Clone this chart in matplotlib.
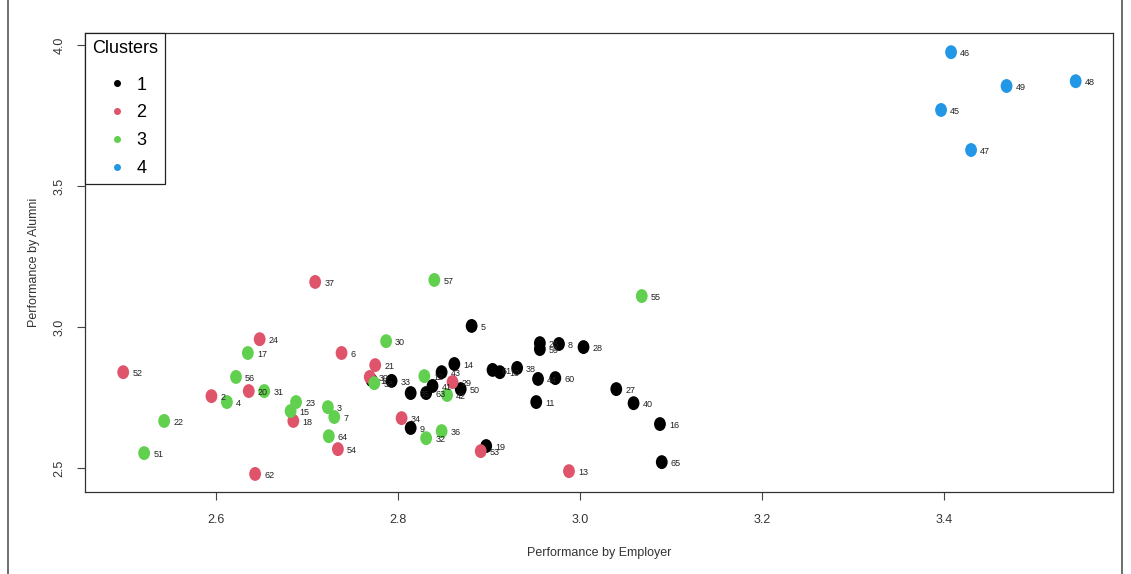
#!/usr/bin/env python3
"""
Cluster scatter: performance by employer vs performance by alumni
"""
import matplotlib
matplotlib.use("Agg")
import matplotlib.pyplot as plt
from matplotlib.path import Path
from matplotlib.transforms import Affine2D
from matplotlib.lines import Line2D

# cluster 1
c1_ids = [1, 5, 8, 9, 10, 11, 14, 16, 19, 26, 27, 28, 33, 35, 38, 40, 41, 43,
          44, 50, 59, 60, 61, 63, 65]
c1_x = [2.771, 2.881, 2.977, 2.814, 2.912, 2.952, 2.862, 3.088, 2.897, 2.956,
        3.040, 3.004, 2.793, 2.814, 2.931, 3.059, 2.838, 2.848, 2.954, 2.869,
        2.956, 2.973, 2.904, 2.831, 3.090]
c1_y = [2.812, 3.004, 2.940, 2.642, 2.840, 2.734, 2.869, 2.656, 2.578, 2.943,
        2.780, 2.929, 2.809, 2.766, 2.855, 2.730, 2.791, 2.840, 2.816, 2.780,
        2.922, 2.819, 2.848, 2.766, 2.521]

# cluster 2
c2_ids = [2, 6, 13, 18, 20, 21, 24, 29, 34, 37, 39, 52, 53, 54, 62]
c2_x = [2.595, 2.738, 2.988, 2.685, 2.636, 2.775, 2.648, 2.860, 2.804, 2.709,
        2.769, 2.498, 2.891, 2.734, 2.643]
c2_y = [2.755, 2.908, 2.489, 2.667, 2.773, 2.865, 2.957, 2.805, 2.677, 3.160,
        2.823, 2.840, 2.560, 2.567, 2.479]

# cluster 3
c3_ids = [3, 4, 7, 12, 15, 17, 22, 23, 30, 31, 32, 36, 42, 51, 55, 56, 57, 58, 64]
c3_x = [2.723, 2.612, 2.730, 2.829, 2.682, 2.635, 2.543, 2.688, 2.787, 2.653,
        2.831, 2.848, 2.854, 2.521, 3.068, 2.622, 2.840, 2.774, 2.724]
c3_y = [2.716, 2.734, 2.681, 2.826, 2.702, 2.908, 2.667, 2.734, 2.950, 2.773,
        2.606, 2.631, 2.759, 2.553, 3.110, 2.823, 3.167, 2.801, 2.613]

# cluster 4
c4_ids = [45, 46, 47, 48, 49]
c4_x = [3.397, 3.408, 3.430, 3.545, 3.469]
c4_y = [3.770, 3.975, 3.628, 3.872, 3.855]

cluster_names = ["1", "2", "3", "4"]
cluster_colors = ["#000000", "#DF536B", "#61D04F", "#2297E6"]

plt.rcParams['font.family'] = ['Liberation Sans', 'DejaVu Sans']

W, H = 1131, 574
fig = plt.figure(figsize=(W / 100, H / 100), dpi=100)
ax = fig.add_axes([85 / W, 1 - 492 / H, 1028 / W, 459 / H])

# slightly tall ellipse, like the stretched R points
oval = Path.unit_circle().transformed(Affine2D().scale(0.85, 1.0))

clusters = [(c1_ids, c1_x, c1_y), (c2_ids, c2_x, c2_y),
            (c3_ids, c3_x, c3_y), (c4_ids, c4_x, c4_y)]
for (ids, xs, ys), col in zip(clusters, cluster_colors):
    ax.scatter(xs, ys, s=100, marker=oval, c=col, edgecolors='none', zorder=3)
    for i, x, y in zip(ids, xs, ys):
        ax.annotate(str(i), (x, y), xytext=(6.5, -1), textcoords='offset points',
                    fontsize=6.5, color='#222222', va='center', ha='left',
                    zorder=4)

ax.set_xlim(2.456, 3.586)
ax.set_ylim(2.415, 4.043)
ax.set_xticks([2.6, 2.8, 3.0, 3.2, 3.4])
ax.set_xticklabels(["2.6", "2.8", "3.0", "3.2", "3.4"])
ax.set_yticks([2.5, 3.0, 3.5, 4.0])
ax.set_yticklabels(["2.5", "3.0", "3.5", "4.0"], rotation=90, va='center')
ax.tick_params(direction='out', length=6, width=0.8, color='#444444',
               labelcolor='#333333', labelsize=9, pad=10)
ax.tick_params(axis='y', pad=8)
for sp in ax.spines.values():
    sp.set_color('#333333')
    sp.set_linewidth(0.9)

ax.set_xlabel("Performance by Employer", fontsize=9, color='#333333', labelpad=15)
ax.set_ylabel("Performance by Alumni", fontsize=9, color='#333333', labelpad=10)

handles = [Line2D([], [], marker='o', ls='none', color=c, markersize=4)
           for c in cluster_colors]
leg = ax.legend(handles, cluster_names, title="Clusters", loc='upper left',
                borderaxespad=0, fontsize=13, title_fontsize=13, fancybox=False,
                framealpha=1, edgecolor='#222222', handletextpad=0.4,
                labelspacing=0.6, borderpad=0.4, handlelength=1.4)
leg.get_frame().set_linewidth(0.9)
# a bit more room between the title and the first entry
leg._legend_box.sep = 14

# thin grey edges at the sides of the picture
for xe in (8, 1122):
    fig.add_artist(Line2D([xe / W, xe / W], [0, 1], transform=fig.transFigure,
                          color='#555555', linewidth=1.2))

fig.savefig("out.png", dpi=100)
